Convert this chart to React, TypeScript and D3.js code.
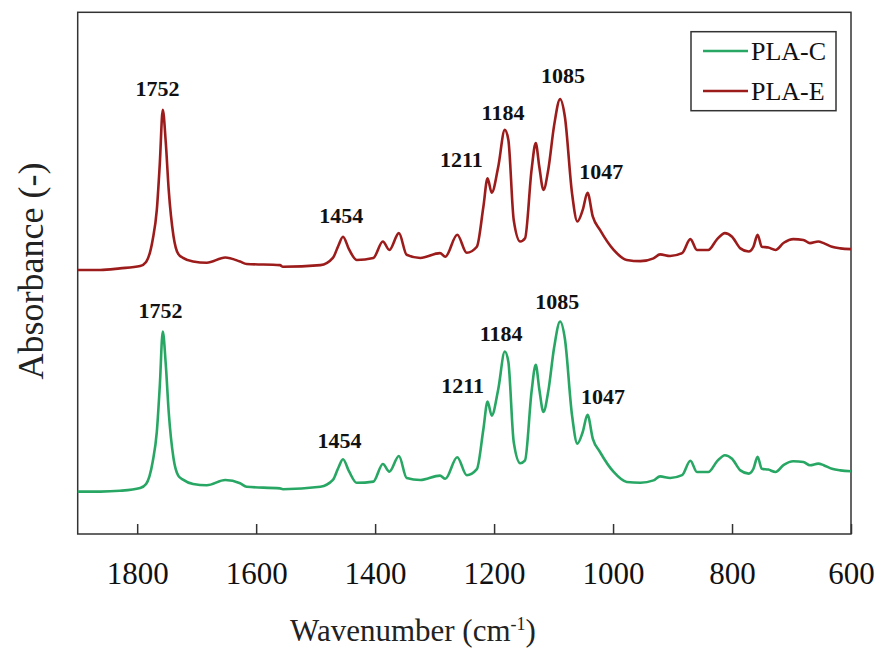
// FTIR spectra of PLA-C and PLA-E, stacked
import { useEffect, useRef } from "react";
import * as d3 from "d3";

// wavenumber grid (cm-1), shared by both traces
const wavenumbers = [
  1900, 1862, 1829, 1795, 1785, 1774, 1767, 1762, 1757, 1752, 1747, 1739, 1731, 1723, 1706,
  1683, 1652, 1627, 1616, 1560, 1555, 1492, 1471, 1462, 1454, 1444, 1431, 1403, 1387, 1376,
  1360, 1347, 1324, 1291, 1282, 1262, 1246, 1229, 1218, 1211, 1204, 1193, 1182, 1176, 1167,
  1156, 1148, 1137, 1130, 1124, 1117, 1109, 1099, 1089, 1081, 1069, 1060, 1051, 1043, 1034,
  1022, 999, 977, 954, 932, 921, 904, 884, 870, 859, 840, 825, 812, 800, 786, 772, 764, 757,
  750, 739, 727, 713, 697, 680, 669, 655, 646, 632, 618, 600,
];

// PLA-E (upper trace, offset)
const plaE = [
  0.660, 0.660, 0.664, 0.670, 0.680, 0.735, 0.810, 0.925, 1.060, 0.980, 0.860, 0.745, 0.700,
  0.690, 0.681, 0.678, 0.691, 0.681, 0.675, 0.672, 0.668, 0.672, 0.690, 0.720, 0.743, 0.712,
  0.685, 0.690, 0.731, 0.710, 0.752, 0.698, 0.690, 0.702, 0.693, 0.748, 0.703, 0.718, 0.818,
  0.889, 0.853, 0.918, 1.010, 0.985, 0.785, 0.731, 0.739, 0.910, 0.977, 0.918, 0.860, 0.910,
  1.022, 1.087, 1.043, 0.852, 0.781, 0.810, 0.853, 0.793, 0.760, 0.710, 0.685, 0.682, 0.689,
  0.699, 0.695, 0.702, 0.737, 0.710, 0.710, 0.737, 0.752, 0.743, 0.714, 0.706, 0.718, 0.748,
  0.718, 0.716, 0.710, 0.728, 0.737, 0.735, 0.727, 0.731, 0.727, 0.718, 0.714, 0.712,
];

// PLA-C (lower trace)
const plaC = [
  0.106, 0.106, 0.108, 0.115, 0.125, 0.180, 0.255, 0.370, 0.506, 0.425, 0.305, 0.190, 0.146,
  0.136, 0.125, 0.122, 0.135, 0.127, 0.118, 0.114, 0.112, 0.118, 0.135, 0.165, 0.187, 0.157,
  0.128, 0.131, 0.175, 0.156, 0.195, 0.140, 0.135, 0.146, 0.138, 0.192, 0.147, 0.162, 0.262,
  0.331, 0.296, 0.362, 0.456, 0.430, 0.230, 0.177, 0.184, 0.356, 0.423, 0.362, 0.305, 0.356,
  0.467, 0.531, 0.488, 0.297, 0.226, 0.255, 0.298, 0.238, 0.205, 0.155, 0.130, 0.128, 0.134,
  0.144, 0.140, 0.147, 0.183, 0.155, 0.155, 0.182, 0.197, 0.188, 0.159, 0.151, 0.163, 0.193,
  0.163, 0.161, 0.155, 0.173, 0.182, 0.180, 0.172, 0.176, 0.172, 0.163, 0.159, 0.157,
];

const xTicks = [1800, 1600, 1400, 1200, 1000, 800, 600];

// peak annotations: text, anchor wavenumber, anchor absorbance
const peakLabelsE = [
  { t: "1752", w: 1766, a: 1.095 },
  { t: "1454", w: 1457, a: 0.778 },
  { t: "1211", w: 1255, a: 0.918 },
  { t: "1184", w: 1185, a: 1.035 },
  { t: "1085", w: 1084, a: 1.127 },
  { t: "1047", w: 1020, a: 0.888 },
];
const peakLabelsC = [
  { t: "1752", w: 1761, a: 0.540 },
  { t: "1454", w: 1460, a: 0.215 },
  { t: "1211", w: 1253, a: 0.352 },
  { t: "1184", w: 1188, a: 0.483 },
  { t: "1085", w: 1094, a: 0.563 },
  { t: "1047", w: 1017, a: 0.325 },
];

const series = [
  { name: "PLA-C", values: plaC, color: "#28a764", labels: peakLabelsC },
  { name: "PLA-E", values: plaE, color: "#9c1c1c", labels: peakLabelsE },
];

const W = 878;
const H = 655;
const m = { left: 77.7, right: 851, top: 12.3, bottom: 534 };
const serif = "'Times New Roman', Tinos, 'Liberation Serif', 'Nimbus Roman', 'Noto Serif', 'DejaVu Serif', FreeSerif, serif";

function App() {
  const ref = useRef<SVGSVGElement>(null);

  useEffect(() => {
    const svg = d3.select(ref.current);
    svg.selectAll("*").remove();

    const x = d3.scaleLinear().domain([1900, 600]).range([m.left, m.right]);
    const y = d3.scaleLinear().domain([0, 1.304]).range([m.bottom, m.top]);

    // frame
    svg.append("rect")
      .attr("x", m.left).attr("y", m.top)
      .attr("width", m.right - m.left).attr("height", m.bottom - m.top)
      .attr("fill", "none").attr("stroke", "#333").attr("stroke-width", 1.5);

    // bottom axis, ticks pointing inward
    const axis = d3.axisBottom(x)
      .tickValues(xTicks)
      .tickFormat(d3.format("d"))
      .tickSizeInner(-10).tickSizeOuter(0).tickPadding(0);
    const g = svg.append("g").attr("transform", `translate(0,${m.bottom})`).call(axis);
    g.attr("font-family", null).attr("font-size", null);
    g.select(".domain").remove();
    g.selectAll("line").attr("stroke", "#333").attr("stroke-width", 1.5);
    g.selectAll("text")
      .attr("y", 50).attr("dy", null).attr("fill", "#111")
      .style("font-family", serif).style("font-size", "31px");

    // traces
    const line = d3.line<number>()
      .x((_, i) => x(wavenumbers[i]))
      .y((d) => y(d))
      .curve(d3.curveMonotoneX);

    series.forEach((s) => {
      svg.append("path")
        .datum(s.values)
        .attr("d", line)
        .attr("fill", "none")
        .attr("stroke", s.color)
        .attr("stroke-width", 2.6)
        .attr("stroke-linejoin", "round");

      svg.selectAll(null)
        .data(s.labels)
        .join("text")
        .attr("x", (d) => x(d.w))
        .attr("y", (d) => y(d.a))
        .attr("text-anchor", "middle")
        .attr("fill", "#111")
        .style("font-family", serif)
        .style("font-weight", "bold")
        .style("font-size", "22px")
        .text((d) => d.t);
    });

    // axis titles
    const xt = svg.append("text")
      .attr("x", 413).attr("y", 641)
      .attr("text-anchor", "middle")
      .attr("fill", "#222")
      .style("font-family", serif).style("font-size", "31px");
    xt.append("tspan").text("Wavenumber (cm");
    xt.append("tspan").attr("dy", -11).style("font-size", "18px").text("-1");
    xt.append("tspan").attr("dy", 11).text(")");

    svg.append("text")
      .attr("transform", "translate(43,271) rotate(-90)")
      .attr("text-anchor", "middle")
      .attr("fill", "#222")
      .style("font-family", serif).style("font-size", "36px")
      .text("Absorbance (-)");

    // legend
    const lg = svg.append("g");
    lg.append("rect")
      .attr("x", 691).attr("y", 31.7).attr("width", 145).attr("height", 79)
      .attr("fill", "white").attr("stroke", "#333").attr("stroke-width", 1.5);
    series.forEach((s, i) => {
      const ly = 51 + i * 40;
      lg.append("line")
        .attr("x1", 703).attr("x2", 748).attr("y1", ly).attr("y2", ly)
        .attr("stroke", s.color).attr("stroke-width", 2.6);
      lg.append("text")
        .attr("x", 751).attr("y", ly + 9)
        .attr("fill", "#111")
        .style("font-family", serif).style("font-size", "26px")
        .text(s.name);
    });
  }, []);

  return (
    <svg
      ref={ref}
      width={W}
      height={H}
      style={{ position: "absolute", left: 0, top: 0, background: "white" }}
    />
  );
}

export default App;
